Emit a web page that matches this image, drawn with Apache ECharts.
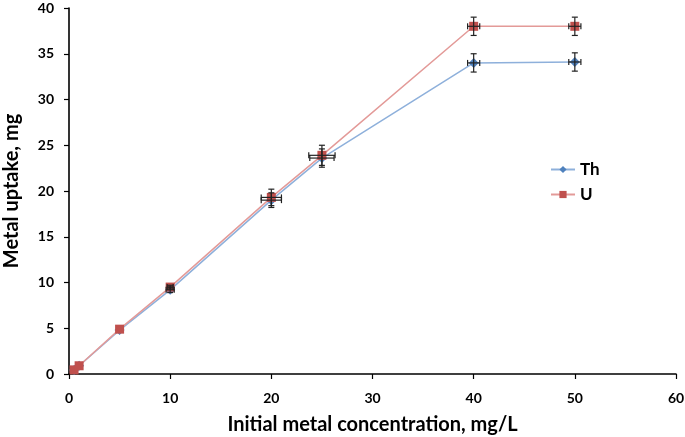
<!DOCTYPE html>
<html><head><meta charset="utf-8">
<script src="https://cdn.jsdelivr.net/npm/echarts@6/dist/echarts.min.js"></script>
<style>html,body{margin:0;padding:0;background:#fff}#c{width:685px;height:437px}</style>
</head><body><div id="c"></div>
<script>
var xValues = [0.5, 1, 5, 10, 20, 25, 40, 50];
var thValues = [0.45, 0.9, 4.8, 9.2, 19.0, 23.6, 34.0, 34.1];
var uValues = [0.45, 0.9, 4.9, 9.5, 19.3, 23.9, 38.0, 38.0];
var thErrY = [0, 0, 0, 0.3, 0.8, 1.0, 1.0, 1.0];
var thErrX = [0, 0, 0, 0.4, 1.0, 1.2, 0.6, 0.6];
var uErrY = [0, 0, 0, 0.2, 0.9, 1.1, 1.0, 1.0];
var uErrX = [0, 0, 0, 0.3, 1.0, 1.3, 0.6, 0.6];
var xTicks = [0, 10, 20, 30, 40, 50, 60];
var yTicks = [0, 5, 10, 15, 20, 25, 30, 35, 40];

var FONT = 'Lato';
function pairs(ys){ return xValues.map(function(x,i){return [x, ys[i]];}); }
function errData(ys, ex, ey){ return xValues.map(function(x,i){return [x, ys[i], ex[i], ey[i]];}); }

function renderErr(params, api){
  var x = api.value(0), y = api.value(1), ex = api.value(2), ey = api.value(3);
  var children = [];
  var style = {stroke:'#222', lineWidth:1.2};
  var cap = 3;
  if (ey > 0) {
    var t = api.coord([x, y + ey]), b = api.coord([x, y - ey]);
    children.push({type:'line', shape:{x1:t[0],y1:t[1],x2:b[0],y2:b[1]}, style:style});
    children.push({type:'line', shape:{x1:t[0]-cap,y1:t[1],x2:t[0]+cap,y2:t[1]}, style:style});
    children.push({type:'line', shape:{x1:b[0]-cap,y1:b[1],x2:b[0]+cap,y2:b[1]}, style:style});
  }
  if (ex > 0) {
    var l = api.coord([x - ex, y]), r = api.coord([x + ex, y]);
    children.push({type:'line', shape:{x1:l[0],y1:l[1],x2:r[0],y2:r[1]}, style:style});
    children.push({type:'line', shape:{x1:l[0],y1:l[1]-cap,x2:l[0],y2:l[1]+cap}, style:style});
    children.push({type:'line', shape:{x1:r[0],y1:r[1]-cap,x2:r[0],y2:r[1]+cap}, style:style});
  }
  return {type:'group', children:children};
}

var chart = echarts.init(document.getElementById('c'), null, {renderer:'canvas'});
chart.setOption({
  animation:false,
  backgroundColor:'#fff',
  grid:{left:69, right:9, top:8, bottom:63, containLabel:false, outerBoundsMode:'none'},
  legend:{
    data:['Th','U'],
    orient:'vertical',
    left:545, top:156,
    itemGap:8,
    itemWidth:24, itemHeight:9,
    textStyle:{fontFamily:FONT, fontWeight:'bold', fontSize:17, color:'#000'}
  },
  xAxis:{
    type:'value', min:0, max:60, interval:10,
    name:'Initial metal concentration, mg/L', nameLocation:'middle', nameGap:41,
    nameTextStyle:{fontFamily:FONT, fontWeight:'bold', fontSize:20, color:'#000'},
    axisLine:{show:true, onZero:false, lineStyle:{color:'#000', width:1.6}},
    axisTick:{show:true, inside:false, length:5, lineStyle:{color:'#000', width:1.2}},
    axisLabel:{fontFamily:FONT, fontWeight:'bold', fontSize:14, color:'#000', margin:17,
      formatter:function(v){ return xTicks.indexOf(v) >= 0 ? String(v) : ''; }},
    splitLine:{show:false}
  },
  yAxis:{
    type:'value', min:0, max:40, interval:5,
    name:'Metal uptake, mg', nameLocation:'middle', nameGap:47,
    nameTextStyle:{fontFamily:FONT, fontWeight:'bold', fontSize:20, color:'#000'},
    axisLine:{show:true, onZero:false, lineStyle:{color:'#000', width:1.6}},
    axisTick:{show:true, inside:false, length:5, lineStyle:{color:'#000', width:1.2}},
    axisLabel:{fontFamily:FONT, fontWeight:'bold', fontSize:14, color:'#000', margin:15,
      formatter:function(v){ return yTicks.indexOf(v) >= 0 ? String(v) : ''; }},
    splitLine:{show:false}
  },
  series:[
    {name:'Th', type:'line', data:pairs(thValues), symbol:'diamond', symbolSize:10,
      itemStyle:{color:'#4F81BD'}, lineStyle:{color:'#8EB0DB', width:1.5}, z:2},
    {name:'U', type:'line', data:pairs(uValues), symbol:'rect', symbolSize:9,
      itemStyle:{color:'#C0504D'}, lineStyle:{color:'#E39A98', width:1.5}, z:3},
    {name:'ThErr', type:'custom', renderItem:renderErr, data:errData(thValues, thErrX, thErrY), z:4, silent:true},
    {name:'UErr', type:'custom', renderItem:renderErr, data:errData(uValues, uErrX, uErrY), z:5, silent:true}
  ]
});
</script></body></html>
